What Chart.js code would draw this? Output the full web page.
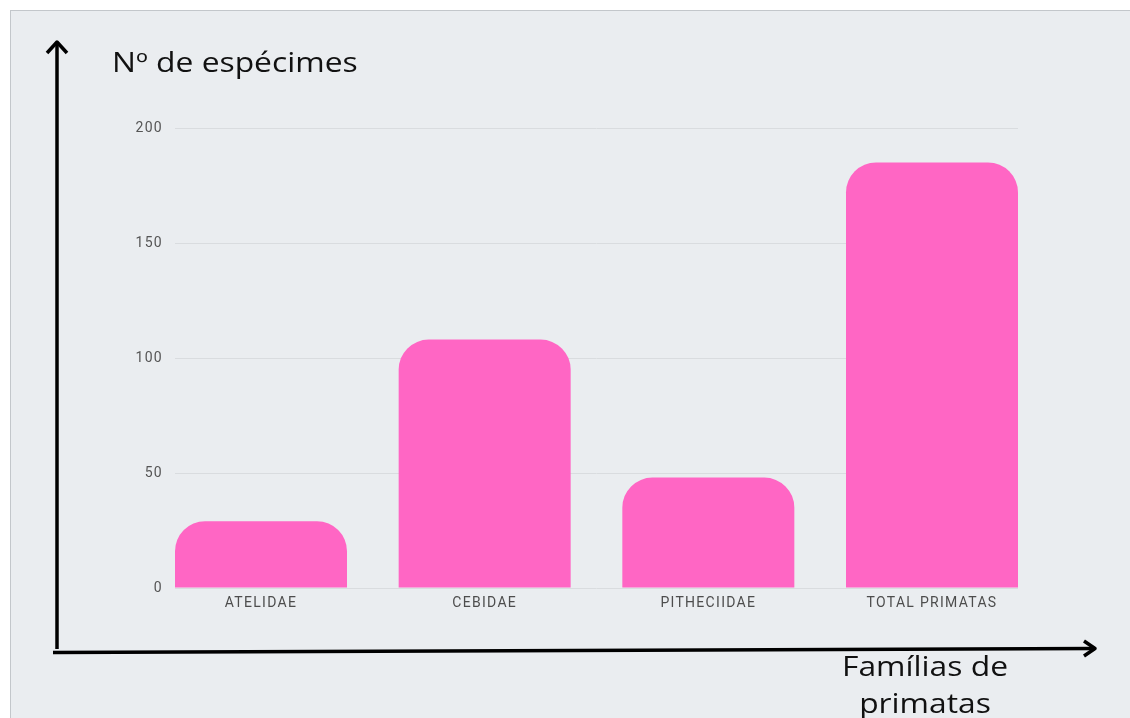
<!DOCTYPE html>
<html>
<head>
<meta charset="utf-8">
<script src="https://cdn.jsdelivr.net/npm/chart.js@4/dist/chart.umd.min.js"></script>
<style>
  html, body { margin: 0; padding: 0; background: #ffffff; }
  #panel {
    position: absolute; left: 10px; top: 10px; width: 1130px; height: 718px;
    background: #eaedf0; border-top: 1px solid #c3c7cb; border-left: 1px solid #c3c7cb;
  }
  #wrap { position: absolute; left: 0; top: 0; width: 1130px; height: 718px; }
</style>
</head>
<body>
<div id="panel"></div>
<div id="wrap"><canvas id="chart" width="1130" height="718"></canvas></div>
<script>
// Primate families and number of specimens per family
const families = ["ATELIDAE", "CEBIDAE", "PITHECIIDAE", "TOTAL PRIMATAS"];
const specimens = [29, 108, 48, 185];
const yTicks = [0, 50, 100, 150, 200];
const yTitle = "Nº de espécimes";
const xTitle = ["Famílias de", "primatas"];

// Wide tick lettering, then the axis arrows and titles on top.
const decorations = {
  id: "decorations",
  beforeDraw(chart) {
    chart.ctx.letterSpacing = "1.3px";
  },
  afterDraw(chart) {
    const ctx = chart.ctx;
    ctx.save();
    ctx.letterSpacing = "0px";
    ctx.strokeStyle = "#000000";
    ctx.lineWidth = 3.5;
    ctx.lineCap = "butt";
    ctx.lineJoin = "round";
    // vertical arrow
    ctx.beginPath();
    ctx.moveTo(57, 649);
    ctx.lineTo(57, 42);
    ctx.stroke();
    ctx.beginPath();
    ctx.moveTo(47, 53);
    ctx.lineTo(57, 42);
    ctx.lineTo(67, 53);
    ctx.stroke();
    // horizontal arrow
    ctx.beginPath();
    ctx.moveTo(53, 652.5);
    ctx.lineTo(1095, 648.5);
    ctx.stroke();
    ctx.beginPath();
    ctx.moveTo(1084, 641);
    ctx.lineTo(1095, 648.5);
    ctx.lineTo(1084, 656);
    ctx.stroke();
    // axis titles, set in a horizontally widened face
    const sx = 1.2;
    ctx.fillStyle = "#111111";
    ctx.font = "26.5px 'Open Sans'";
    ctx.textBaseline = "middle";
    ctx.scale(sx, 1);
    ctx.textAlign = "left";
    ctx.fillText(yTitle, 112 / sx, 64);
    ctx.textAlign = "center";
    ctx.fillText(xTitle[0], 925 / sx, 668);
    ctx.fillText(xTitle[1], 925 / sx, 705);
    ctx.restore();
  }
};

const half = 0.3845;

new Chart(document.getElementById("chart"), {
  type: "bar",
  data: {
    datasets: [{
      data: specimens.map((v, i) => ({ x: i, y: v })),
      backgroundColor: "#ff66c4",
      borderWidth: 0,
      borderRadius: { topLeft: 30, topRight: 30, bottomLeft: 0, bottomRight: 0 },
      borderSkipped: false,
      categoryPercentage: 1,
      barPercentage: 0.769
    }]
  },
  options: {
    responsive: false,
    animation: false,
    devicePixelRatio: 1,
    layout: { padding: { left: 0, right: 112, top: 128, bottom: 0 } },
    plugins: { legend: { display: false }, tooltip: { enabled: false }, title: { display: false } },
    scales: {
      x: {
        type: "linear",
        offset: false,
        min: -half,
        max: families.length - 1 + half,
        grid: { display: false, drawTicks: false, offset: false },
        border: { display: false },
        afterBuildTicks(scale) { scale.ticks = families.map((_, i) => ({ value: i })); },
        ticks: {
          color: "#4d4d4d", font: { family: "Roboto", size: 14 }, padding: 7, maxRotation: 0,
          autoSkip: false,
          callback: (v) => families[v]
        },
        afterFit(scale) { scale.height = 130; }
      },
      y: {
        min: 0, max: 200,
        grid: { display: true, drawTicks: false, color: "#d9dcdf", lineWidth: 1 },
        border: { display: false },
        afterBuildTicks(scale) { scale.ticks = yTicks.map(v => ({ value: v })); },
        ticks: { color: "#555555", font: { family: "Roboto", size: 14 }, padding: 12 },
        afterFit(scale) { scale.width = 175; }
      }
    }
  },
  plugins: [decorations]
});
</script>
</body>
</html>
